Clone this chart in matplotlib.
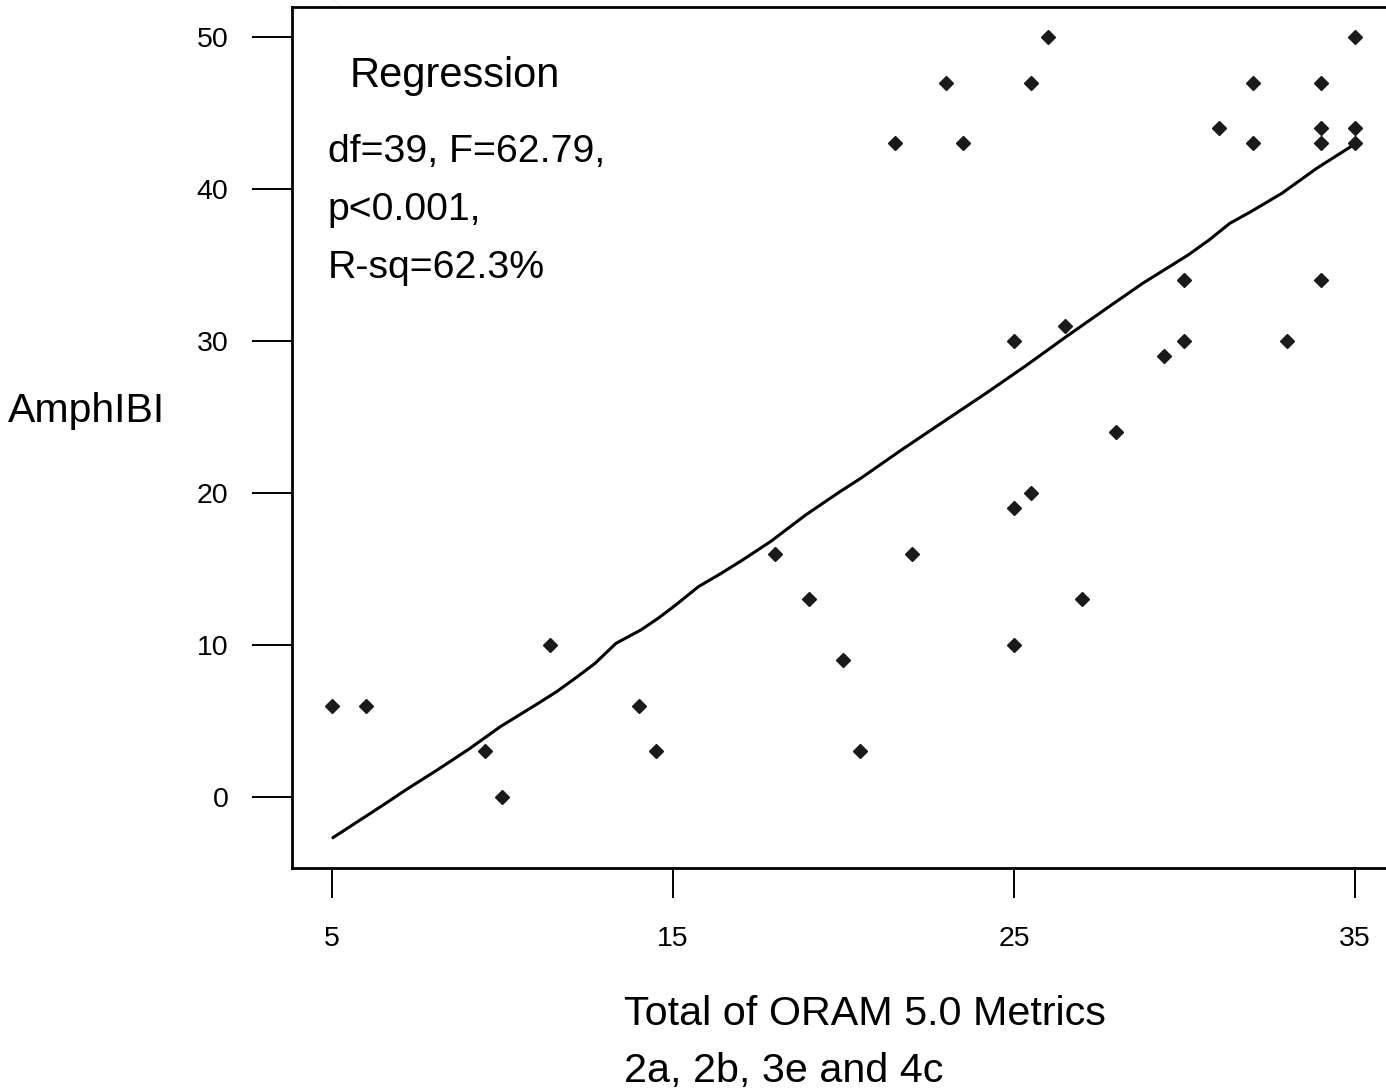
import matplotlib
matplotlib.use("Agg")
import matplotlib.pyplot as plt
from matplotlib.lines import Line2D

plt.rcParams['font.family'] = ['Liberation Sans', 'DejaVu Sans']

# ===== data =====
oram_total = [5, 6, 9.5, 10, 11.4, 14, 14.5, 18, 19, 20,
              20.5, 22, 25, 25.5, 27, 25,
              26, 35, 23, 25.5, 32, 34, 31, 34, 35,
              21.5, 23.5, 32, 34, 35,
              30, 34, 26.5, 25, 30, 33, 29.4, 28]
amph_ibi = [6, 6, 3, 0, 10, 6, 3, 16, 13, 9,
            3, 16, 19, 20, 13, 10,
            50, 50, 47, 47, 47, 47, 44, 44, 44,
            43, 43, 43, 43, 43,
            34, 34, 31, 30, 30, 30, 29, 24]

# fitted line as drawn (slightly jagged in the original)
fit_x = [5, 5.98, 6.65, 7.16, 8.09, 9.01, 9.53, 9.94, 10.97, 11.59, 12.2, 12.72,
         13.33, 14.06, 14.57, 15.08, 15.75, 16.42, 17.04, 17.86, 18.89, 19.9,
         20.51, 21.7, 22.86, 24.18, 25.31, 26.53, 27.86, 28.78, 30.11, 30.72,
         31.33, 31.95, 32.86, 33.88, 35]
fit_y = [-2.72, -1.29, -0.31, 0.46, 1.78, 3.14, 3.97, 4.63, 6.05, 6.93, 7.92, 8.8,
         10.11, 10.99, 11.76, 12.63, 13.84, 14.72, 15.59, 16.8, 18.55, 20.09,
         20.97, 22.83, 24.58, 26.56, 28.31, 30.28, 32.37, 33.8, 35.66, 36.64,
         37.74, 38.51, 39.72, 41.36, 42.96]

x_ticks = [5, 15, 25, 35]
y_ticks = [0, 10, 20, 30, 40, 50]

stats_lines = ["df=39, F=62.79,", "p<0.001,", "R-sq=62.3%"]

# ===== figure =====
W, H = 1386, 1092
fig = plt.figure(figsize=(W / 100, H / 100), dpi=100)
fig.patch.set_facecolor("white")

# axes box: left 292px, top 7px, bottom 868px, right edge runs off the image
ax = fig.add_axes([292 / W, 1 - 868 / H, (1400 - 292) / W, (868 - 7) / H])
ax.set_xlim(3.83, 36.32)
ax.set_ylim(-4.67, 51.97)

# faint diagonal artefact in the original image
fig.add_artist(Line2D([333 / W, 1386 / W], [1.0, 1 - 790 / H],
                      color="#eeeeee", lw=0.8, zorder=0))

ax.plot(fit_x, fit_y, color="black", lw=2.2, solid_capstyle="butt", zorder=2)
ax.plot(oram_total, amph_ibi, linestyle="none", marker="D", markersize=7.3,
        color="#1a1a1a", zorder=3)

for side in ["left", "bottom", "top", "right"]:
    ax.spines[side].set_linewidth(2.0)

ax.set_xticks(x_ticks)
ax.set_yticks(y_ticks)
ax.set_xticklabels([str(v) for v in x_ticks], fontsize=20.5)
ax.set_yticklabels([str(v) for v in y_ticks], fontsize=20.5)
ax.tick_params(axis="x", direction="out", length=21.6, width=1.4, pad=20)
ax.tick_params(axis="y", direction="out", length=28.8, width=1.4, pad=17)

# regression annotation
ax.text(5.53, 46.7, "Regression", fontsize=30, ha="left", va="baseline")
for i, line in enumerate(stats_lines):
    ax.text(4.88, 41.78 - i * 3.82, line, fontsize=28.3, ha="left", va="baseline")

# axis titles placed like the original
fig.text(8 / W, 1 - 422 / H, "AmphIBI", fontsize=29.5, ha="left", va="baseline")
fig.text(624 / W, 1 - 1025 / H, "Total of ORAM 5.0 Metrics", fontsize=29.7,
         ha="left", va="baseline")
fig.text(624 / W, 1 - 1082 / H, "2a, 2b, 3e and 4c", fontsize=29.7,
         ha="left", va="baseline")

fig.savefig("out.png", dpi=100)
plt.close(fig)
